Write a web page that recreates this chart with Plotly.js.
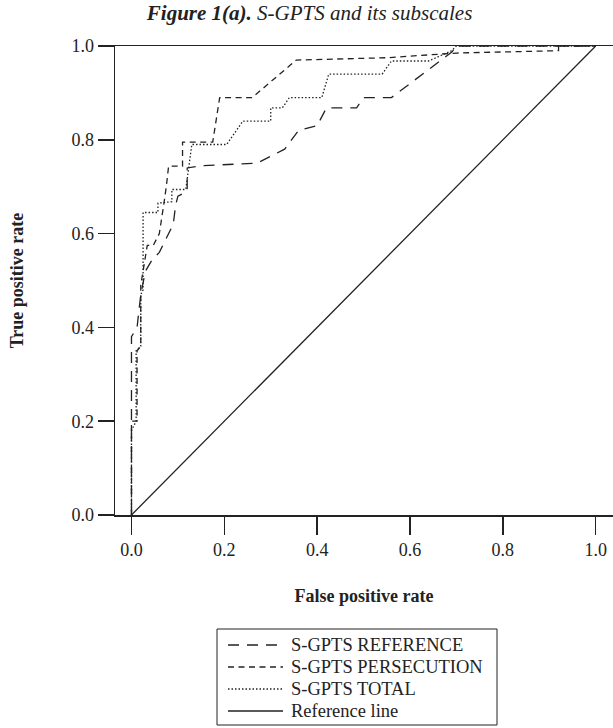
<!DOCTYPE html>
<html>
<head>
<meta charset="utf-8">
<script src="https://cdn.plot.ly/plotly-3.0.1.min.js"></script>
<style>html,body{margin:0;padding:0;background:#fff;}#chart{width:613px;height:728px;}</style>
</head>
<body>
<div id="chart"></div>
<script>
// ---- data ----
const seriesNames = ["S-GPTS REFERENCE", "S-GPTS PERSECUTION", "S-GPTS TOTAL", "Reference line"];

const fprReference = [0, 0, 0.012, 0.02, 0.03, 0.045, 0.06, 0.075, 0.09, 0.095, 0.10, 0.12, 0.12, 0.155, 0.27, 0.33, 0.36, 0.40, 0.42, 0.485, 0.50, 0.56, 0.69, 0.70, 1.0];
const tprReference = [0, 0.38, 0.40, 0.47, 0.52, 0.545, 0.56, 0.59, 0.62, 0.66, 0.68, 0.69, 0.74, 0.745, 0.75, 0.78, 0.82, 0.83, 0.868, 0.868, 0.89, 0.89, 0.987, 1.0, 1.0];

const fprPersecution = [0, 0, 0.012, 0.012, 0.02, 0.02, 0.034, 0.047, 0.06, 0.065, 0.07, 0.075, 0.08, 0.11, 0.11, 0.175, 0.19, 0.26, 0.355, 0.55, 0.70, 0.92, 0.92, 1.0];
const tprPersecution = [0, 0.2, 0.2, 0.35, 0.36, 0.49, 0.575, 0.575, 0.60, 0.63, 0.665, 0.70, 0.744, 0.744, 0.795, 0.795, 0.89, 0.89, 0.97, 0.975, 0.985, 0.99, 1.0, 1.0];

const fprTotal = [0, 0, 0.01, 0.01, 0.02, 0.02, 0.025, 0.025, 0.057, 0.057, 0.087, 0.087, 0.117, 0.13, 0.205, 0.24, 0.30, 0.30, 0.325, 0.34, 0.41, 0.425, 0.54, 0.56, 0.64, 0.69, 0.70, 1.0];
const tprTotal = [0, 0.18, 0.2, 0.35, 0.36, 0.47, 0.48, 0.645, 0.645, 0.665, 0.668, 0.694, 0.694, 0.79, 0.79, 0.84, 0.84, 0.868, 0.868, 0.89, 0.89, 0.94, 0.94, 0.968, 0.968, 0.99, 1.0, 1.0];

const fprRefLine = [0, 1];
const tprRefLine = [0, 1];

const tickValues = [0, 0.2, 0.4, 0.6, 0.8, 1.0];
const tickLabels = ["0.0", "0.2", "0.4", "0.6", "0.8", "1.0"];

// ---- styling ----
const ink = "#222";
const font = "Liberation Serif, Times New Roman, serif";
const dashes = ["11px,8px", "6px,4.5px", "1.5px,2px", "solid"];
const lineWidth = 1.3;

// plot area in pixels (margins)
const W = 613, H = 728, L = 115, R = 0, T = 46, B = 213;
const pw = W - L - R, ph = H - T - B;
const px = v => (v - L) / pw;          // pixel x -> paper x
const py = v => (H - B - v) / ph;      // pixel y -> paper y

const traces = [
  {x: fprReference, y: tprReference},
  {x: fprPersecution, y: tprPersecution},
  {x: fprTotal, y: tprTotal},
  {x: fprRefLine, y: tprRefLine}
].map((t, i) => Object.assign(t, {
  name: seriesNames[i], mode: "lines", showlegend: false, hoverinfo: "skip",
  line: {color: ink, width: lineWidth, dash: dashes[i]}
}));

// ---- hand-built legend box (tight line spacing like the reference) ----
const legBox = {x0: 217, x1: 497, y0: 629, y1: 725};
const legRowY = [645, 667, 689, 711];
const legLineX = [228, 283];
const legTextX = 289;

const shapes = [{
  type: "rect", xref: "paper", yref: "paper",
  x0: px(legBox.x0), x1: px(legBox.x1), y0: py(legBox.y1), y1: py(legBox.y0),
  line: {color: ink, width: 1}, fillcolor: "rgba(0,0,0,0)"
}];
const annotations = [];
seriesNames.forEach((name, i) => {
  shapes.push({
    type: "line", xref: "paper", yref: "paper",
    x0: px(legLineX[0]), x1: px(legLineX[1]), y0: py(legRowY[i]), y1: py(legRowY[i]),
    line: {color: ink, width: lineWidth, dash: dashes[i]}
  });
  annotations.push({
    xref: "paper", yref: "paper", x: px(legTextX), y: py(legRowY[i]),
    xanchor: "left", yanchor: "middle", showarrow: false, text: name,
    font: {family: font, size: 18.5, color: ink}
  });
});

const layout = {
  width: W, height: H,
  margin: {l: L, r: R, t: T, b: B, pad: 0},
  paper_bgcolor: "#fff", plot_bgcolor: "#fff",
  font: {family: font, size: 18, color: ink},
  title: {
    text: "<b><i>Figure 1(a).</i></b><i> S-GPTS and its subscales</i>",
    x: 0.505, xanchor: "center", y: 0.982, yanchor: "middle",
    font: {family: font, size: 21, color: ink}
  },
  xaxis: {
    range: [-0.0355, 1.0373], showgrid: false, zeroline: false,
    showline: true, mirror: true, linecolor: ink, linewidth: 1.5,
    ticks: "outside", ticklen: 18, tickwidth: 1.5, tickcolor: ink,
    tickvals: tickValues, ticktext: tickLabels,
    tickfont: {family: font, size: 18, color: ink},
    title: {text: "<b>False positive rate</b>", font: {family: font, size: 18, color: ink}, standoff: 30},
    automargin: false, fixedrange: true
  },
  yaxis: {
    range: [0, 1], showgrid: false, zeroline: false,
    showline: true, mirror: false, linecolor: ink, linewidth: 1.5,
    ticks: "outside", ticklen: 16, tickwidth: 1.5, tickcolor: ink,
    tickvals: tickValues, ticktext: tickLabels,
    tickfont: {family: font, size: 18, color: ink},
    title: {text: "<b>True positive rate</b>", font: {family: font, size: 18, color: ink}, standoff: 43},
    automargin: false, fixedrange: true
  },
  showlegend: false,
  shapes: shapes,
  annotations: annotations
};

Plotly.newPlot("chart", traces, layout, {staticPlot: true, displayModeBar: false});
</script>
</body>
</html>
